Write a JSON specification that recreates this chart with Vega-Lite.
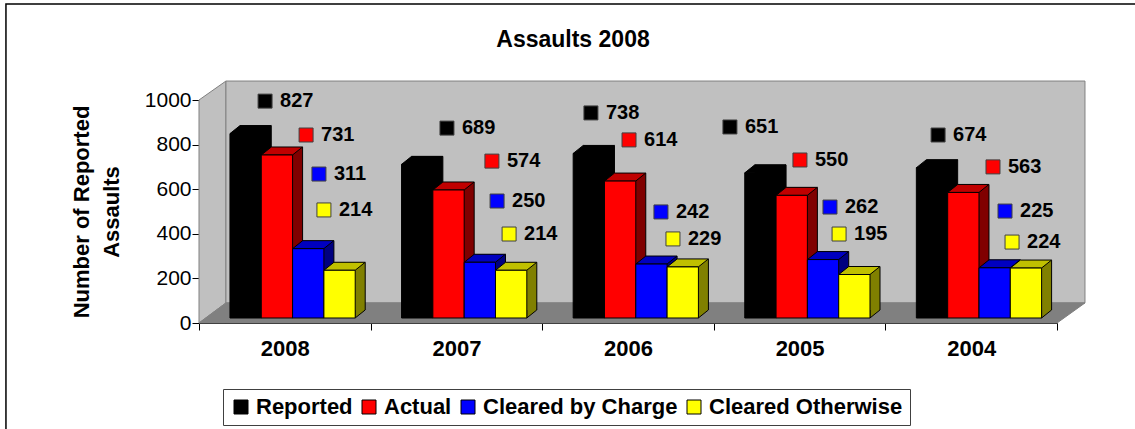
{"$schema":"https://vega.github.io/schema/vega-lite/v6.json","width":858,"height":223,"autosize":"none","padding":{"left":199,"top":100,"right":78,"bottom":106},"background":"white","config":{"view":{"stroke":null},"font":"Liberation Sans"},
"title":{"text":"Assaults 2008","font":"Liberation Sans","fontSize":23,"fontWeight":"bold","color":"black","anchor":"middle","dx":-55,"offset":-49},
"datasets":{"rows":[
{"year":"2008","series":"Reported","value":827,"labelAt":995,"labelAcross":0.385},{"year":"2008","series":"Actual","value":731,"labelAt":843,"labelAcross":0.624},{"year":"2008","series":"Cleared by Charge","value":311,"labelAt":668,"labelAcross":0.699},{"year":"2008","series":"Cleared Otherwise","value":214,"labelAt":507,"labelAcross":0.728},
{"year":"2007","series":"Reported","value":689,"labelAt":874,"labelAcross":1.445},{"year":"2007","series":"Actual","value":574,"labelAt":726,"labelAcross":1.707},{"year":"2007","series":"Cleared by Charge","value":250,"labelAt":547,"labelAcross":1.737},{"year":"2007","series":"Cleared Otherwise","value":214,"labelAt":399,"labelAcross":1.807},
{"year":"2006","series":"Reported","value":738,"labelAt":942,"labelAcross":2.284},{"year":"2006","series":"Actual","value":614,"labelAt":821,"labelAcross":2.506},{"year":"2006","series":"Cleared by Charge","value":242,"labelAt":498,"labelAcross":2.692},{"year":"2006","series":"Cleared Otherwise","value":229,"labelAt":377,"labelAcross":2.762},
{"year":"2005","series":"Reported","value":651,"labelAt":879,"labelAcross":3.094},{"year":"2005","series":"Actual","value":550,"labelAt":731,"labelAcross":3.502},{"year":"2005","series":"Cleared by Charge","value":262,"labelAt":520,"labelAcross":3.677},{"year":"2005","series":"Cleared Otherwise","value":195,"labelAt":399,"labelAcross":3.73},
{"year":"2004","series":"Reported","value":674,"labelAt":843,"labelAcross":4.307},{"year":"2004","series":"Actual","value":563,"labelAt":700,"labelAcross":4.627},{"year":"2004","series":"Cleared by Charge","value":225,"labelAt":502,"labelAcross":4.697},{"year":"2004","series":"Cleared Otherwise","value":224,"labelAt":363,"labelAcross":4.738}
]},
"resolve":{"scale":{"x":"independent","xOffset":"independent","color":"independent"}},
"layer":[
{"data":{"values":[{"a":0,"lo":0,"hi":1000},{"a":0.157,"lo":90,"hi":1085}]},"mark":{"type":"area","fill":"#C0C0C0","stroke":"#808080","strokeWidth":1},"encoding":{"x":{"field":"a","type":"quantitative","axis":null,"scale":{"domain":[0,5],"nice":false,"zero":false}},"y":{"field":"lo","type":"quantitative","scale":{"domain":[0,1000],"nice":false},"axis":{"title":["Number of Reported","Assaults"],"titleFontSize":22,"titleFontWeight":"bold","titleColor":"black","titlePadding":21,"titleLineHeight":30,"labelFontSize":21,"labelColor":"black","labelFont":"Liberation Sans","format":"d","values":[0,200,400,600,800,1000],"grid":false,"tickColor":"black","domainColor":"black","tickSize":7,"labelPadding":1}},"y2":{"field":"hi"}}},
{"data":{"values":[{"a":0.157,"b":5.163,"lo":90,"hi":1085}]},"mark":{"type":"rect","fill":"#C0C0C0","stroke":"#808080","strokeWidth":1},"encoding":{"x":{"field":"a","type":"quantitative","axis":null,"scale":{"domain":[0,5],"nice":false,"zero":false}},"x2":{"field":"b"},"y":{"field":"lo","type":"quantitative","scale":{"domain":[0,1000],"nice":false}},"y2":{"field":"hi"}}},
{"data":{"values":[{"a":0,"lo":0,"hi":0},{"a":0.157,"lo":0,"hi":90},{"a":5,"lo":0,"hi":90},{"a":5.163,"lo":90,"hi":90}]},"mark":{"type":"area","fill":"#808080","stroke":"#808080","strokeWidth":1},"encoding":{"x":{"field":"a","type":"quantitative","axis":null,"scale":{"domain":[0,5],"nice":false,"zero":false}},"y":{"field":"lo","type":"quantitative","scale":{"domain":[0,1000],"nice":false}},"y2":{"field":"hi"}}},
{"data":{"name":"rows"},"mark":{"type":"bar","yOffset":-13,"y2Offset":-13},"encoding":{"x":{"field":"year","type":"nominal","axis":null,"scale":{"domain":["2008","2007","2006","2005","2004"],"paddingInner":0,"paddingOuter":0}},"xOffset":{"field":"series","type":"nominal","scale":{"domain":["Reported","Actual","Cleared by Charge","Cleared Otherwise"],"paddingOuter":0.74,"paddingInner":0,"align":0.668,"range":[10,181.6]}},"y":{"field":"value","type":"quantitative","scale":{"domain":[0,1000],"nice":false}},"color":{"field":"series","type":"nominal","legend":null,"scale":{"domain":["Reported","Actual","Cleared by Charge","Cleared Otherwise"],"range":["#000000","#800000","#000080","#808000"]}}}},
{"data":{"name":"rows"},"mark":{"type":"point","filled":true,"opacity":1,"size":4,"yOffset":-5,"shape":"M15.6,-8 L15.6,0 L25.6,-8","stroke":"black","strokeWidth":1},"encoding":{"x":{"field":"year","type":"nominal","axis":null,"scale":{"domain":["2008","2007","2006","2005","2004"],"paddingInner":0,"paddingOuter":0}},"xOffset":{"field":"series","type":"nominal","scale":{"type":"band","domain":["Reported","Actual","Cleared by Charge","Cleared Otherwise"],"paddingOuter":0.74,"paddingInner":0,"align":0.668}},"y":{"datum":0,"scale":{"domain":[0,1000],"nice":false}},"color":{"field":"series","type":"nominal","legend":null,"scale":{"domain":["Reported","Actual","Cleared by Charge","Cleared Otherwise"],"range":["#000000","#800000","#000080","#808000"]}}}},
{"data":{"name":"rows"},"mark":{"type":"rule","color":"black","strokeWidth":1,"yOffset":-13,"y2Offset":-13},"encoding":{"x":{"field":"year","type":"nominal","axis":null,"scale":{"domain":["2008","2007","2006","2005","2004"],"paddingInner":0,"paddingOuter":0}},"xOffset":{"field":"series","type":"nominal","scale":{"type":"band","domain":["Reported","Actual","Cleared by Charge","Cleared Otherwise"],"paddingOuter":0.74,"paddingInner":0,"align":0.668,"range":[25.65,197.25]}},"y":{"field":"value","type":"quantitative","scale":{"domain":[0,1000],"nice":false}},"y2":{"datum":0}}},
{"data":{"name":"rows"},"mark":{"type":"point","filled":true,"opacity":1,"size":4,"yOffset":-5,"shape":"M-15.6,0 L15.6,0 L25.6,-8 L-5.6,-8 Z","stroke":"black","strokeWidth":1},"encoding":{"x":{"field":"year","type":"nominal","axis":null,"scale":{"domain":["2008","2007","2006","2005","2004"],"paddingInner":0,"paddingOuter":0}},"xOffset":{"field":"series","type":"nominal","scale":{"type":"band","domain":["Reported","Actual","Cleared by Charge","Cleared Otherwise"],"paddingOuter":0.74,"paddingInner":0,"align":0.668}},"y":{"field":"value","type":"quantitative","scale":{"domain":[0,1000],"nice":false}},"color":{"field":"series","type":"nominal","legend":null,"scale":{"domain":["Reported","Actual","Cleared by Charge","Cleared Otherwise"],"range":["#000000","#C00000","#0000C0","#C0C000"]}}}},
{"data":{"name":"rows"},"mark":{"type":"bar","stroke":"black","strokeWidth":1,"yOffset":-5,"y2Offset":-5},"encoding":{"x":{"field":"year","type":"nominal","title":null,"scale":{"domain":["2008","2007","2006","2005","2004"],"paddingInner":0,"paddingOuter":0},"axis":{"labelAngle":0,"labelFontSize":22,"labelFontWeight":"bold","labelColor":"black","labelFont":"Liberation Sans","tickBand":"extent","tickColor":"black","tickSize":7,"domainColor":"black","labelPadding":8,"grid":false}},"xOffset":{"field":"series","type":"nominal","scale":{"domain":["Reported","Actual","Cleared by Charge","Cleared Otherwise"],"paddingOuter":0.74,"paddingInner":0,"align":0.668}},"y":{"field":"value","type":"quantitative","scale":{"domain":[0,1000],"nice":false}},"color":{"field":"series","type":"nominal","scale":{"domain":["Reported","Actual","Cleared by Charge","Cleared Otherwise"],"range":["#000000","#FF0000","#0000FF","#FFFF00"]},"legend":{"title":null,"orient":"none","legendX":24,"legendY":289,"direction":"horizontal","columns":4,"symbolType":"square","symbolSize":196,"symbolStrokeColor":"black","symbolStrokeWidth":1,"labelFontSize":22,"labelFontWeight":"bold","labelColor":"black","labelFont":"Liberation Sans","labelLimit":300,"columnPadding":5,"labelOffset":4,"fillColor":"white","strokeColor":"#404040","padding":7}}}},
{"data":{"name":"rows"},"mark":{"type":"point","filled":true,"opacity":1,"shape":"square","size":196,"stroke":"#404040","strokeWidth":1},"encoding":{"x":{"field":"labelAcross","type":"quantitative","axis":null,"scale":{"domain":[0,5],"nice":false,"zero":false}},"y":{"field":"labelAt","type":"quantitative","scale":{"domain":[0,1000],"nice":false}},"color":{"field":"series","type":"nominal","legend":null,"scale":{"domain":["Reported","Actual","Cleared by Charge","Cleared Otherwise"],"range":["#000000","#FF0000","#0000FF","#FFFF00"]}}}},
{"data":{"name":"rows"},"mark":{"type":"text","align":"left","baseline":"middle","dx":15,"font":"Liberation Sans","fontSize":20,"fontWeight":"bold","color":"black"},"encoding":{"x":{"field":"labelAcross","type":"quantitative","axis":null,"scale":{"domain":[0,5],"nice":false,"zero":false}},"y":{"field":"labelAt","type":"quantitative","scale":{"domain":[0,1000],"nice":false}},"text":{"field":"value","type":"quantitative"}}},
{"data":{"values":[{"a":-1.125,"b":5.48,"lo":-525,"hi":1430}]},"mark":{"type":"rect","fillOpacity":0,"stroke":"black","strokeWidth":1.5},"encoding":{"x":{"field":"a","type":"quantitative","axis":null,"scale":{"domain":[0,5],"nice":false,"zero":false}},"x2":{"field":"b"},"y":{"field":"lo","type":"quantitative","scale":{"domain":[0,1000],"nice":false}},"y2":{"field":"hi"}}}
]}
